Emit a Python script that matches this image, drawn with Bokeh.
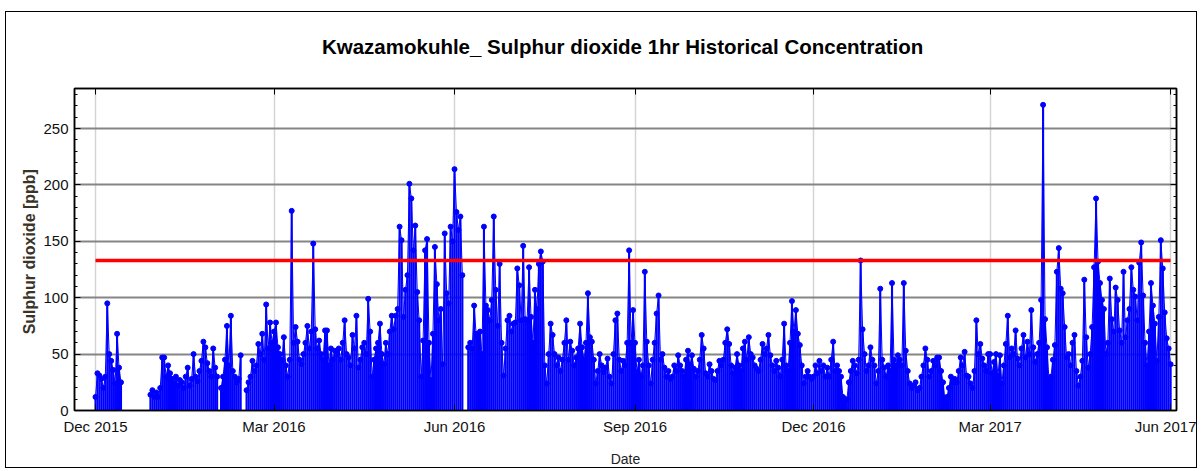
import numpy as np
import pandas as pd
from bokeh.plotting import figure
from bokeh.models import (Range1d, LinearAxis, DatetimeAxis, FixedTicker,
                          SingleIntervalTicker, DatetimeTickFormatter, ColumnDataSource)
from bokeh.embed import file_html
from bokeh.resources import INLINE

NA = float("nan")

# ---------------- data: daily maximum of the 1-hr SO2 values [ppb] ----------------
start_date = "2015-12-01"
dec_2015 = [12, 33, 31, 28, 20, 30, 95, 50, 44, 36, 24, 68, 38, 25,
            NA, NA, NA, NA, NA, NA, NA, NA, NA, NA, NA, NA, NA, NA, 14, 18, 12]
jan_2016 = [16, 12, 20, 47, 47, 30, 40, 33, 28, 24, 30, 22, 27, 25, 20, 30, 38, 22, 28, 50,
            30, 26, 35, 44, 61, 56, 42, 35, 30, 55, 38]
feb_2016 = [30, NA, 20, 30, 45, 75, 40, 84, 35, 30, 25, 28, 49, NA, NA, 18, 25, 30, 44, 35,
            40, 59, 50, 68, 45, 94, 55, 78, 60]
mar_2016 = [70, 78, 56, 50, 45, 65, 40, 30, 45, 177, 60, 74, 61, 45, 41, 50, 60, 75, 55, 70,
            148, 72, 55, 62, 50, 45, 71, 71, 40, 55, 45]
apr_2016 = [53, 50, 55, 45, 60, 80, 50, 47, 40, 67, 55, 84, 38, 45, 56, 60, 50, 99, 70, 30,
            45, 55, 60, 77, 50, 41, 60, 50, 70, 84]
may_2016 = [72, 84, 90, 163, 151, 83, 107, 120, 201, 188, 142, 164, 105, 80, 30, 62, 142, 152,
            60, 27, 68, 145, 112, 80, 90, 41, 157, 104, 95, 163, 150]
jun_2016 = [214, 176, 160, 172, 120, NA, NA, 56, 60, 55, 93, 68, 65, 70, 50, 163, 93, 89, 80,
            98, 172, 107, 75, 130, 60, 31, 55, 80, 84, 70]
jul_2016 = [77, 78, 126, 111, 80, 146, 81, 80, 127, 83, 60, 107, 90, 130, 141, 132, 40, 24, 50,
            77, 67, 50, 40, 47, 35, 45, 60, 80, 45, 61, 53]
aug_2016 = [40, 47, 55, 77, 56, 45, 60, 104, 65, 61, 45, 24, 35, 50, 40, 34, 38, 46, 30, 24,
            50, 80, 86, 45, 35, 44, 40, 60, 142, 60, 89]
sep_2016 = [60, 34, 45, 30, 40, 123, 61, 40, 24, 45, 60, 86, 102, 45, 50, 38, 30, 35, 28, 30,
            40, 35, 49, 40, 35, 30, 45, 53, 40, 49]
oct_2016 = [37, 30, 35, 45, 67, 55, 33, 30, 41, 35, 28, 27, 35, 44, 40, 45, 60, 72, 59, 40,
            33, 38, 50, 40, 35, 55, 61, 45, 65, 50, 47]
nov_2016 = [40, 37, 35, 45, 59, 50, 55, 67, 49, 40, 35, 44, 38, 30, 45, 77, 40, 35, 60, 97,
            70, 89, 68, 58, 40, 24, 30, 35, 30, 28]
dec_2016 = [30, 40, 33, 44, 35, 40, 30, 38, 30, 45, 61, 35, 40, 35, 30, 12, 9, 10, 25, 35,
            44, 40, 33, 45, 133, 72, 50, 35, 40, 56, 45]
jan_2017 = [40, 24, 35, 108, 45, 38, 30, 40, 35, 113, 45, 40, 49, 45, 40, 113, 53, 35, 24, 20,
            22, 25, 18, 20, 30, 40, 55, 45, 30, 35, 44]
feb_2017 = [40, 47, 47, 35, 25, 9, 12, 20, 30, 25, 28, 25, 35, 47, 40, 52, 31, 30, 24, 20,
            35, 80, 50, 59, 46, 40, 35, 50]
mar_2017 = [50, 33, 43, 50, 31, 49, 24, 40, 59, 84, 47, 55, 50, 71, 46, 40, 55, 67, 47, 61,
            50, 89, 56, 43, 50, 60, 98, 271, 81, 56, 27]
apr_2017 = [30, 45, 58, 123, 144, 108, 104, 74, 47, 50, 40, 60, 67, 35, 22, 30, 44, 116, 65,
            38, 50, 74, 127, 188, 132, 113, 98, 90, 50, 60]
may_2017 = [117, 81, 70, 109, 98, 71, 60, 123, 65, 80, 90, 127, 107, 101, 80, 131, 149, 102,
            60, 40, 70, 113, 93, 77, 44, 83, 151, 126, 87, 64, 55]
jun_2017 = [41]

limit_ppb = 133  # 1-hr limit (red line)

tick_dates = ["2015-12-01", "2016-03-01", "2016-06-01", "2016-09-01",
              "2016-12-01", "2017-03-01", "2017-06-01"]
tick_labels = ["Dec 2015", "Mar 2016", "Jun 2016", "Sep 2016",
               "Dec 2016", "Mar 2017", "Jun 2017"]
title_text = "Kwazamokuhle_ Sulphur dioxide  1hr Historical Concentration"

# ---------------- build ----------------
values = np.array(dec_2015 + jan_2016 + feb_2016 + mar_2016 + apr_2016 + may_2016 +
                  jun_2016 + jul_2016 + aug_2016 + sep_2016 + oct_2016 + nov_2016 +
                  dec_2016 + jan_2017 + feb_2017 + mar_2017 + apr_2017 + may_2017 +
                  jun_2017, dtype=float)
dates = pd.date_range(start_date, periods=len(values), freq="D")
valid = ~np.isnan(values)

src_all = ColumnDataSource(dict(x=dates, y=values))
src_ok = ColumnDataSource(dict(x=dates[valid], y=values[valid]))

FONT = "Liberation Sans"
BLUE = "#0000ff"

x_start = pd.Timestamp(start_date) - pd.Timedelta(days=10.7)
x_end = dates[-1] + pd.Timedelta(days=3)

p = figure(width=1192, height=457, x_axis_type="datetime",
           x_range=Range1d(x_start, x_end), y_range=Range1d(0, 285.5),
           output_backend="svg", toolbar_location=None,
           min_border_left=68, min_border_right=22, min_border_top=76, min_border_bottom=59)
p.styles = {"border": "1px solid black", "margin-left": "5px", "margin-top": "11px"}

p.outline_line_color = "black"
p.outline_line_width = 1.5

tick_ms = [pd.Timestamp(t).value // 10**6 for t in tick_dates]
xticker = FixedTicker(ticks=tick_ms)
fmt = DatetimeTickFormatter(days="%b %Y", months="%b %Y", years="%b %Y")
overrides = {ms: lab for ms, lab in zip(tick_ms, tick_labels)}
yticker = SingleIntervalTicker(interval=50, num_minor_ticks=5)


def style_axis(ax, labels=True):
    ax.axis_line_color = "black"
    ax.axis_line_width = 1.5
    ax.major_tick_line_color = "black"
    ax.minor_tick_line_color = "black"
    ax.major_tick_in = 6
    ax.major_tick_out = 0
    ax.minor_tick_in = 3
    ax.minor_tick_out = 0
    ax.major_label_text_font = FONT
    if labels:
        ax.major_label_text_font_size = "15px"
        ax.major_label_text_color = "#111111"
    else:
        ax.major_label_text_font_size = "1px"
        ax.major_label_text_color = None
        ax.major_label_standoff = 0


xa = p.xaxis[0]
xa.ticker = xticker
xa.formatter = fmt
xa.major_label_overrides = overrides
style_axis(xa)
xa.minor_tick_in = 0
xa.major_label_standoff = 7
xa.axis_label = "Date"
xa.axis_label_text_font = FONT
xa.axis_label_text_font_size = "14px"
xa.axis_label_text_font_style = "normal"
xa.axis_label_text_color = "#222222"
xa.axis_label_standoff = 13

ya = p.yaxis[0]
ya.ticker = yticker
style_axis(ya)
ya.major_label_standoff = 6
ya.axis_label = "Sulphur dioxide  [ppb]"
ya.axis_label_text_font = FONT
ya.axis_label_text_font_size = "16px"
ya.axis_label_text_font_style = "bold"
ya.axis_label_text_color = "#3a3428"
ya.axis_label_standoff = 2

# top frame axis (mirror ticks) carries the chart title
top_ax = DatetimeAxis(ticker=xticker, formatter=fmt)
style_axis(top_ax, labels=False)
top_ax.minor_tick_in = 0
top_ax.axis_label = title_text
top_ax.axis_label_text_font = FONT
top_ax.axis_label_text_font_size = "20.5px"
top_ax.axis_label_text_font_style = "bold"
top_ax.axis_label_text_color = "#000000"
top_ax.axis_label_standoff = 31
p.add_layout(top_ax, "above")

right_ax = LinearAxis(ticker=yticker)
style_axis(right_ax, labels=False)
p.add_layout(right_ax, "right")

p.xgrid.ticker = xticker
p.xgrid.grid_line_color = "#d4d4d4"
p.xgrid.grid_line_width = 1.5
p.ygrid.grid_line_color = "#858585"
p.ygrid.grid_line_width = 2

# hourly-peak stems, connecting trace and markers
p.segment(x0="x", y0=0, x1="x", y1="y", source=src_ok, line_color=BLUE, line_width=2.1)
p.line("x", "y", source=src_all, line_color=BLUE, line_width=1)
p.scatter("x", "y", source=src_ok, size=5, marker="circle",
          fill_color=BLUE, line_color=BLUE)

# limit line
p.line(x=[dates[0], dates[-1]], y=[limit_ppb, limit_ppb], line_color="#ff0000", line_width=3.5)

open("out.html", "w").write(file_html(p, INLINE))
